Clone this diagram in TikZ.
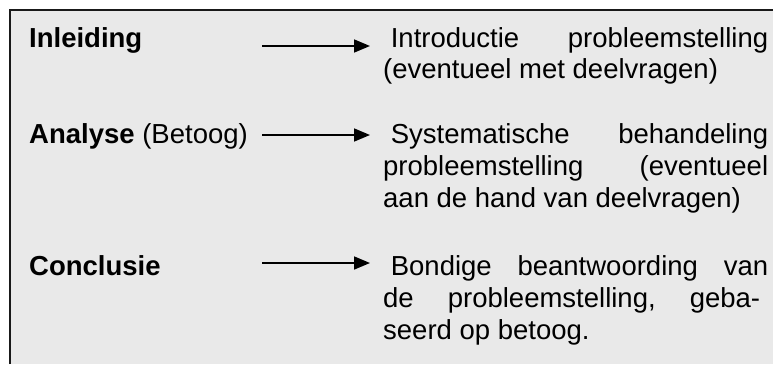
\documentclass[tikz,border=0pt]{standalone}
\usepackage{fontspec}
\setmainfont{Liberation Sans}
\usetikzlibrary{arrows.meta}
\definecolor{boxfill}{RGB}{233,233,233}
\definecolor{boxline}{RGB}{25,25,25}
\tikzset{
  lbl/.style={anchor=base west, inner sep=0pt, font=\fontsize{27.5}{32}\selectfont},
  para/.style={anchor=base west, inner sep=0pt, font=\fontsize{27.5}{32}\selectfont},
  arr/.style={line width=1.7pt, -{Triangle[length=16pt,width=13pt]}}
}
\newcommand{\jline}[1]{\hbox to 385pt{#1}}
\begin{document}
\begin{tikzpicture}[x=1pt,y=-1pt]
  \useasboundingbox (0,0) rectangle (773,364);
  \fill[boxfill] (10,10) rectangle (773,364);
  \draw[boxline, line width=2pt] (10,364) -- (10,10) -- (773,10);

  % left labels
  \node[lbl] (l1) at (29,47.5) {\textbf{Inleiding}};
  \node[lbl] (l2) at (29,143) {\textbf{Analyse} (Betoog)};
  \node[lbl] (l3) at (29,275) {\textbf{Conclusie}};

  % right paragraphs
  \node[para] (t1) at (383,47) {\vtop{\baselineskip=31.5pt
    \jline{\ Introductie\hfill probleemstelling}
    \jline{(eventueel met deelvragen)\hfill}}};
  \node[para] (t2) at (383,143) {\vtop{\baselineskip=32pt
    \jline{\ Systematische\hfill behandeling}
    \jline{probleemstelling\hfill(eventueel}
    \jline{aan de hand van deelvragen)\hfill}}};
  \node[para] (t3) at (383,275) {\vtop{\baselineskip=32pt
    \jline{\ Bondige\hfill beantwoording\hfill van}
    \jline{de\hfill probleemstelling,\hfill geba-\hspace*{8pt}}
    \jline{seerd op betoog.\hfill}}};

  % arrows
  \coordinate (a1s) at (262,46);  \coordinate (a1e) at (370,46);
  \coordinate (a2s) at (262,135); \coordinate (a2e) at (370,135);
  \coordinate (a3s) at (262,263); \coordinate (a3e) at (370,263);
  \draw[arr] (a1s) -- (a1e);
  \draw[arr] (a2s) -- (a2e);
  \draw[arr] (a3s) -- (a3e);
\end{tikzpicture}
\end{document}
